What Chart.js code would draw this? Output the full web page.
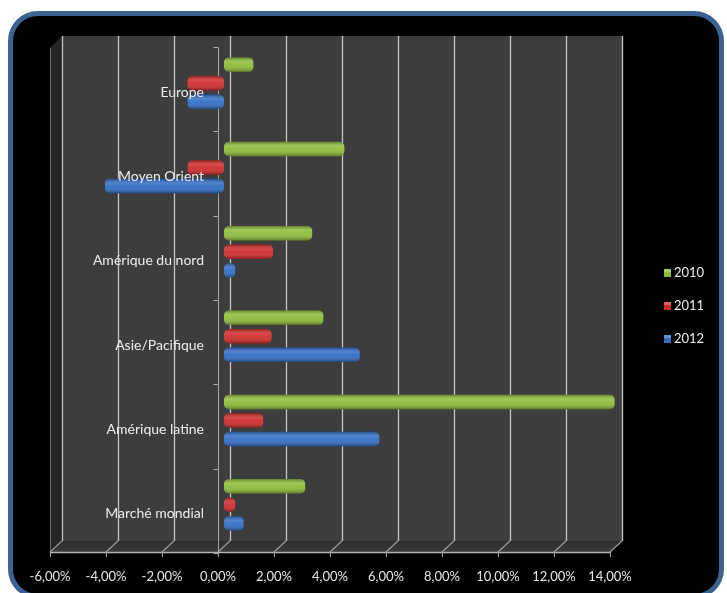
<!DOCTYPE html>
<html>
<head>
<meta charset="utf-8">
<script src="https://cdn.jsdelivr.net/npm/chart.js@4"></script>
<style>
  html, body { margin: 0; padding: 0; background: #fff; overflow: hidden; }
  #frame {
    position: absolute; left: 8px; top: 11px;
    width: 706px; height: 578px;
    border: 5px solid #3b6291; border-radius: 30px;
    background: #000;
  }
  #wrap { position: absolute; left: 0; top: 0; width: 727px; height: 593px; }
</style>
</head>
<body>
<div id="frame"></div>
<div id="wrap"><canvas id="chart" width="727" height="593"></canvas></div>
<script>
// categories, top to bottom
const categories = ['Europe', 'Moyen Orient', 'Amérique du nord', 'Asie/Pacifique', 'Amérique latine', 'Marché mondial'];
const seriesNames = ['2010', '2011', '2012'];
// growth in %
const values2010 = [1.05, 4.3, 3.15, 3.55, 13.95, 2.9];
const values2011 = [-1.3, -1.3, 1.75, 1.7, 1.4, 0.4];
const values2012 = [-1.3, -4.25, 0.4, 4.85, 5.55, 0.7];
// x axis ticks
const xMin = -6;
const xMax = 14;
const xStep = 2;

const colors = ['#8dbb38', '#cf2a2a', '#2f6cc4'];
const FONT = 'Lato, "Open Sans", sans-serif';
const DEPTH = 6; // half of the 3D depth offset

function fmtPct(v) {
    return v.toFixed(2).replace('.', ',') + '%';
}

// gray walls, floor and grid lines drawn behind the bars
const scenePlugin = {
    id: 'scene',
    beforeDatasetsDraw(chart) {
        const { ctx, chartArea, scales: { x, y } } = chart;
        const d = DEPTH;
        const left = x.getPixelForValue(xMin);
        const right = x.getPixelForValue(xMax);
        const backTop = chartArea.top - 5;
        const backBottom = chartArea.bottom - d;
        const frontBottom = chartArea.bottom + d - 1;
        ctx.save();

        // back wall
        ctx.fillStyle = '#3d3d3d';
        ctx.fillRect(left + d, backTop, right - left, backBottom - backTop);

        // side wall
        ctx.fillStyle = '#242424';
        ctx.beginPath();
        ctx.moveTo(left - d, backTop + 2 * d);
        ctx.lineTo(left + d, backTop);
        ctx.lineTo(left + d, backBottom);
        ctx.lineTo(left - d, frontBottom);
        ctx.closePath();
        ctx.fill();

        // floor
        const g = ctx.createLinearGradient(0, backBottom, 0, frontBottom);
        g.addColorStop(0, '#2c2c2c');
        g.addColorStop(1, '#3a3a3a');
        ctx.fillStyle = g;
        ctx.beginPath();
        ctx.moveTo(left - d, frontBottom);
        ctx.lineTo(left + d, backBottom);
        ctx.lineTo(right + d, backBottom);
        ctx.lineTo(right - d, frontBottom);
        ctx.closePath();
        ctx.fill();

        // side wall front edge
        ctx.strokeStyle = '#6a6a6a';
        ctx.lineWidth = 1;
        ctx.beginPath();
        ctx.moveTo(left - d + 0.5, backTop + 2 * d);
        ctx.lineTo(left - d + 0.5, frontBottom);
        ctx.stroke();

        // grid lines on the back wall and on the floor
        for (let v = xMin; v <= xMax; v += xStep) {
            const px = Math.round(x.getPixelForValue(v));
            ctx.strokeStyle = '#c4c4c4';
            ctx.lineWidth = 1.3;
            ctx.beginPath();
            ctx.moveTo(px + d + 0.5, backTop);
            ctx.lineTo(px + d + 0.5, backBottom);
            ctx.stroke();
            ctx.strokeStyle = '#9a9a9a';
            ctx.lineWidth = 1.2;
            ctx.beginPath();
            ctx.moveTo(px - d, frontBottom);
            ctx.lineTo(px + d, backBottom);
            ctx.stroke();
            ctx.beginPath();
            ctx.moveTo(px - d + 0.5, frontBottom);
            ctx.lineTo(px - d + 0.5, frontBottom + 5);
            ctx.stroke();
        }

        // front edge of the floor
        ctx.strokeStyle = '#b4b4b4';
        ctx.lineWidth = 1.3;
        ctx.beginPath();
        ctx.moveTo(left - d, frontBottom + 0.5);
        ctx.lineTo(right - d, frontBottom + 0.5);
        ctx.stroke();

        // zero axis line with category ticks
        const p0 = Math.round(x.getPixelForValue(0)) - d + 0.5;
        ctx.strokeStyle = '#a8a8a8';
        ctx.lineWidth = 1;
        ctx.beginPath();
        ctx.moveTo(p0, backTop + 2 * d);
        ctx.lineTo(p0, frontBottom);
        ctx.stroke();
        const band = (y.getPixelForValue(1) - y.getPixelForValue(0));
        for (let i = 0; i <= categories.length; i++) {
            const ty = Math.round(y.getPixelForValue(i) - band / 2 + d) + 0.5;
            ctx.beginPath();
            ctx.moveTo(p0 - 5, ty);
            ctx.lineTo(p0, ty);
            ctx.stroke();
        }
        ctx.restore();
    },

    afterDatasetsDraw(chart) {
        const { ctx, scales: { x, y } } = chart;
        ctx.save();
        // cylinder shading on every bar
        chart.data.datasets.forEach((ds, di) => {
            chart.getDatasetMeta(di).data.forEach(bar => {
                const p = bar.getProps(['x', 'y', 'base', 'height'], true);
                const bx = Math.min(p.x, p.base);
                const bw = Math.abs(p.x - p.base);
                const by = p.y - p.height / 2;
                const g = ctx.createLinearGradient(0, by, 0, by + p.height);
                g.addColorStop(0, 'rgba(0,0,0,0.30)');
                g.addColorStop(0.3, 'rgba(255,255,255,0.16)');
                g.addColorStop(0.55, 'rgba(255,255,255,0.06)');
                g.addColorStop(1, 'rgba(0,0,0,0.35)');
                ctx.fillStyle = g;
                ctx.beginPath();
                ctx.roundRect(bx, by, bw, p.height, Math.min(5, bw / 2));
                ctx.fill();
            });
        });

        // category labels, right aligned next to the zero line
        const p0 = x.getPixelForValue(0);
        ctx.font = '14px ' + FONT;
        ctx.fillStyle = '#ececec';
        ctx.textAlign = 'right';
        ctx.textBaseline = 'middle';
        categories.forEach((c, i) => {
            ctx.fillText(c, p0 - 20, y.getPixelForValue(i) + 9);
        });
        ctx.restore();
    },

    afterDraw(chart) {
        // legend on the right
        const { ctx } = chart;
        const lx = 664, ly = 273, gap = 33;
        ctx.save();
        ctx.font = '13px ' + FONT;
        ctx.textAlign = 'left';
        ctx.textBaseline = 'middle';
        chart.data.datasets.forEach((ds, i) => {
            const cy = ly + i * gap;
            ctx.fillStyle = ds.backgroundColor;
            ctx.fillRect(lx, cy - 4, 7, 8);
            ctx.fillStyle = 'rgba(255,255,255,0.25)';
            ctx.fillRect(lx, cy - 4, 7, 3);
            ctx.fillStyle = '#ececec';
            ctx.fillText(ds.label, lx + 10, cy);
        });
        ctx.restore();
    }
};

const seriesValues = [values2010, values2011, values2012];

new Chart(document.getElementById('chart'), {
    type: 'bar',
    data: {
        labels: categories,
        datasets: seriesNames.map((name, i) => ({
            label: name,
            data: seriesValues[i],
            backgroundColor: colors[i],
            borderRadius: 5,
            borderSkipped: false,
            categoryPercentage: 0.66,
            barPercentage: 0.78
        }))
    },
    options: {
        indexAxis: 'y',
        responsive: false,
        animation: false,
        events: [],
        layout: {
            padding: { left: 56, right: 111, top: 41, bottom: 0 }
        },
        plugins: {
            legend: { display: false },
            tooltip: { enabled: false }
        },
        scales: {
            x: {
                type: 'linear',
                min: xMin,
                max: xMax,
                grid: { display: false, drawTicks: false },
                border: { display: false },
                ticks: {
                    stepSize: xStep,
                    color: '#e6e6e6',
                    font: { family: FONT, size: 13 },
                    padding: 22,
                    labelOffset: -DEPTH,
                    maxRotation: 0,
                    autoSkip: false,
                    callback: (v) => fmtPct(v)
                },
                afterFit: (scale) => { scale.height = 46; }
            },
            y: {
                type: 'category',
                display: false
            }
        }
    },
    plugins: [scenePlugin]
});
</script>
</body>
</html>
